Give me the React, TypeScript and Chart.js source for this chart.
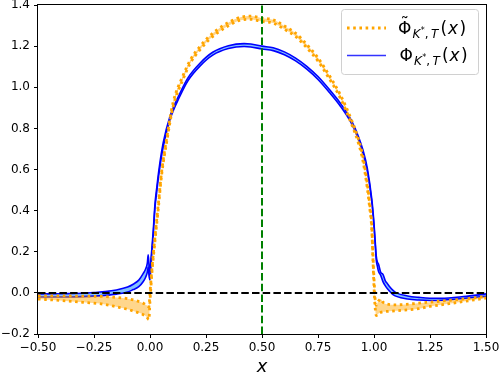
import React, { useEffect, useRef } from "react";
import { Chart, registerables } from "chart.js";

Chart.register(...registerables);

// ---- tick values / labels ----
const xTickValues = [-0.5, -0.25, 0, 0.25, 0.5, 0.75, 1, 1.25, 1.5];
const xTickLabels = ["−0.50", "−0.25", "0.00", "0.25", "0.50", "0.75", "1.00", "1.25", "1.50"];
const yTickValues = [-0.2, 0, 0.2, 0.4, 0.6, 0.8, 1.0, 1.2, 1.4];
const yTickLabels = ["−0.2", "0.0", "0.2", "0.4", "0.6", "0.8", "1.0", "1.2", "1.4"];

// ---- orange series (tilde Phi) : band upper / lower ----
const orangeX = [
  -0.5, -0.4, -0.3, -0.2, -0.15, -0.1, -0.075, -0.05, -0.03, -0.015,
  -0.005, 0.0, 0.008, 0.022, 0.037, 0.052, 0.075, 0.103, 0.148, 0.18,
  0.223, 0.26, 0.3, 0.35, 0.4, 0.45, 0.5, 0.55, 0.6, 0.65,
  0.7, 0.75, 0.8, 0.85, 0.9, 0.93, 0.95, 0.97, 0.98, 0.99,
  0.995, 1.0, 1.005, 1.01, 1.02, 1.03, 1.04, 1.06, 1.1, 1.2,
  1.25, 1.3, 1.4, 1.5,
];
const orangeUpper = [
  -0.015, -0.015, -0.016, -0.018, -0.022, -0.028, -0.034, -0.042, -0.05, -0.06,
  -0.068, 0.0, 0.11, 0.27, 0.43, 0.59, 0.755, 0.925, 1.058, 1.133,
  1.198, 1.243, 1.28, 1.315, 1.339, 1.346, 1.336, 1.328, 1.298, 1.263,
  1.208, 1.143, 1.058, 0.963, 0.84, 0.75, 0.665, 0.53, 0.44, 0.33,
  0.19, 0.07, -0.03, -0.06, -0.04, -0.03, -0.045, -0.055, -0.058, -0.05,
  -0.045, -0.04, -0.03, -0.017,
];
const orangeLower = [
  -0.03, -0.037, -0.046, -0.056, -0.068, -0.08, -0.088, -0.097, -0.106, -0.116,
  -0.13, -0.04, 0.09, 0.25, 0.41, 0.575, 0.737, 0.905, 1.04, 1.117,
  1.182, 1.227, 1.264, 1.299, 1.325, 1.33, 1.32, 1.312, 1.282, 1.247,
  1.192, 1.127, 1.042, 0.947, 0.82, 0.73, 0.645, 0.51, 0.42, 0.31,
  0.17, 0.03, -0.07, -0.11, -0.1, -0.095, -0.092, -0.09, -0.087, -0.077,
  -0.066, -0.058, -0.042, -0.025,
];

// ---- blue series (Phi) : band upper / lower ----
const blueX = [
  -0.5, -0.4, -0.3, -0.25, -0.2, -0.15, -0.1, -0.075, -0.05, -0.03,
  -0.02, -0.012, -0.008, -0.004, 0.0, 0.004, 0.008, 0.015, 0.022, 0.03,
  0.04, 0.059, 0.089, 0.134, 0.17, 0.223, 0.28, 0.35, 0.42, 0.45,
  0.5, 0.55, 0.6, 0.65, 0.7, 0.75, 0.8, 0.85, 0.9, 0.93,
  0.95, 0.97, 0.99, 1.0, 1.005, 1.01, 1.015, 1.02, 1.03, 1.04,
  1.05, 1.06, 1.07, 1.085, 1.1, 1.15, 1.2, 1.25, 1.3, 1.4,
  1.5,
];
const blueUpper = [
  -0.005, -0.004, -0.002, 0.002, 0.006, 0.014, 0.028, 0.042, 0.062, 0.095,
  0.115, 0.145, 0.185, 0.13, 0.1, 0.16, 0.21, 0.31, 0.43, 0.51,
  0.6, 0.73, 0.858, 0.972, 1.047, 1.117, 1.17, 1.202, 1.212, 1.21,
  1.2, 1.192, 1.172, 1.142, 1.102, 1.052, 0.99, 0.922, 0.837, 0.762,
  0.697, 0.607, 0.457, 0.337, 0.257, 0.18, 0.15, 0.14, 0.1, 0.09,
  0.06, 0.045, 0.03, 0.012, 0.0, -0.015, -0.022, -0.026, -0.026, -0.018,
  -0.005,
];
const blueLower = [
  -0.02, -0.02, -0.018, -0.016, -0.012, -0.006, 0.004, 0.016, 0.03, 0.055,
  0.075, 0.1, 0.125, 0.08, 0.063, 0.13, 0.19, 0.29, 0.41, 0.49,
  0.58, 0.71, 0.842, 0.958, 1.033, 1.103, 1.156, 1.188, 1.198, 1.196,
  1.186, 1.178, 1.158, 1.128, 1.088, 1.038, 0.976, 0.908, 0.823, 0.748,
  0.683, 0.593, 0.443, 0.323, 0.243, 0.16, 0.13, 0.105, 0.085, 0.055,
  0.035, 0.02, 0.008, -0.008, -0.017, -0.03, -0.035, -0.037, -0.036, -0.027,
  -0.017,
];

// ---- reference lines ----
const zeroLineX = [-0.5, 1.5];
const zeroLineY = [0, 0];
const markerLineX = [0.5, 0.5];
const markerLineY = [-0.2, 1.4];

const ORANGE = "#ffa500";
const ORANGE_FILL = "rgba(255,165,0,0.45)";
const BLUE = "#0000ff";
const BLUE_FILL = "rgba(30,144,255,0.55)";
const FONT = '"DejaVu Sans"';
const ORANGE_DASH = [2.6, 3.6];

const pts = (xs: number[], ys: number[]) => xs.map((x, i) => ({ x, y: ys[i] }));

function drawMathLabel(ctx: CanvasRenderingContext2D, x: number, y: number, tilde: boolean) {
  const big = 17;
  const sub = 12;
  ctx.fillStyle = "#000";
  ctx.textAlign = "left";
  ctx.textBaseline = "alphabetic";
  ctx.font = `${big}px ${FONT}`;
  ctx.fillText("Φ", x, y);
  const phiW = ctx.measureText("Φ").width;
  if (tilde) {
    ctx.textAlign = "center";
    ctx.fillText("˜", x + phiW / 2, y - 4.5);
    ctx.textAlign = "left";
  }
  let cx = x + phiW + 1;
  ctx.font = `italic ${sub}px ${FONT}`;
  ctx.fillText("K", cx, y + 3.5);
  cx += ctx.measureText("K").width + 0.5;
  ctx.font = `8px ${FONT}`;
  ctx.fillText("*", cx, y - 1.5);
  cx += ctx.measureText("*").width;
  ctx.font = `${sub}px ${FONT}`;
  ctx.fillText(",", cx, y + 3.5);
  cx += ctx.measureText(",").width + 2.5;
  ctx.font = `italic ${sub}px ${FONT}`;
  ctx.fillText("T", cx, y + 3.5);
  cx += ctx.measureText("T").width + 2;
  ctx.font = `${big}px ${FONT}`;
  ctx.fillText("(", cx, y);
  cx += ctx.measureText("(").width + 1;
  ctx.font = `italic ${big}px ${FONT}`;
  ctx.fillText("x", cx, y);
  cx += ctx.measureText("x").width + 1.5;
  ctx.font = `${big}px ${FONT}`;
  ctx.fillText(")", cx, y);
}

const overlayPlugin = {
  id: "overlay",
  afterDraw(chart: any) {
    const { ctx, chartArea: a } = chart;
    ctx.save();
    // axes frame
    ctx.strokeStyle = "#000";
    ctx.lineWidth = 1;
    ctx.setLineDash([]);
    ctx.strokeRect(a.left - 0.5, a.top - 0.5, a.right - a.left + 1, a.bottom - a.top + 1);

    // legend box
    const lx = 341.5, ly = 9.5, lw = 137, lh = 65, r = 3;
    ctx.beginPath();
    ctx.moveTo(lx + r, ly);
    ctx.lineTo(lx + lw - r, ly);
    ctx.quadraticCurveTo(lx + lw, ly, lx + lw, ly + r);
    ctx.lineTo(lx + lw, ly + lh - r);
    ctx.quadraticCurveTo(lx + lw, ly + lh, lx + lw - r, ly + lh);
    ctx.lineTo(lx + r, ly + lh);
    ctx.quadraticCurveTo(lx, ly + lh, lx, ly + lh - r);
    ctx.lineTo(lx, ly + r);
    ctx.quadraticCurveTo(lx, ly, lx + r, ly);
    ctx.closePath();
    ctx.fillStyle = "rgba(255,255,255,0.85)";
    ctx.fill();
    ctx.strokeStyle = "#d0d0d0";
    ctx.lineWidth = 1;
    ctx.stroke();

    // legend handles
    ctx.beginPath();
    ctx.strokeStyle = ORANGE;
    ctx.lineWidth = 2.8;
    ctx.setLineDash(ORANGE_DASH);
    ctx.moveTo(347, 28);
    ctx.lineTo(386, 28);
    ctx.stroke();
    ctx.beginPath();
    ctx.setLineDash([]);
    ctx.strokeStyle = "#3333ff";
    ctx.lineWidth = 1.6;
    ctx.moveTo(347, 55.5);
    ctx.lineTo(386, 55.5);
    ctx.stroke();

    drawMathLabel(ctx, 398, 34, true);
    drawMathLabel(ctx, 399.5, 61, false);

    // x-axis label
    ctx.fillStyle = "#000";
    ctx.font = `italic 18px ${FONT}`;
    ctx.textAlign = "center";
    ctx.textBaseline = "alphabetic";
    ctx.fillText("x", (a.left + a.right) / 2, 372);
    ctx.restore();
  },
};

export default function App() {
  const ref = useRef<HTMLCanvasElement | null>(null);

  useEffect(() => {
    if (!ref.current) return;
    Chart.defaults.font.family = FONT;
    const dashed = [7.5, 3.2];
    const curve = { pointRadius: 0, cubicInterpolationMode: "monotone" as const };
    const chart = new Chart(ref.current, {
      type: "line",
      data: {
        datasets: [
          {
            label: "marker",
            data: pts(markerLineX, markerLineY),
            borderColor: "#008000",
            borderWidth: 2,
            borderDash: dashed,
            pointRadius: 0,
            fill: false,
          },
          {
            label: "zero",
            data: pts(zeroLineX, zeroLineY),
            borderColor: "#000000",
            borderWidth: 2,
            borderDash: dashed,
            pointRadius: 0,
            fill: false,
          },
          {
            label: "tildePhiUpper",
            data: pts(orangeX, orangeUpper),
            borderColor: ORANGE,
            borderWidth: 2.8,
            borderDash: ORANGE_DASH,
            fill: false,
            ...curve,
          },
          {
            label: "tildePhiLower",
            data: pts(orangeX, orangeLower),
            borderColor: ORANGE,
            borderWidth: 2.8,
            borderDash: ORANGE_DASH,
            fill: "-1",
            backgroundColor: ORANGE_FILL,
            ...curve,
          },
          {
            label: "phiUpper",
            data: pts(blueX, blueUpper),
            borderColor: BLUE,
            borderWidth: 1.6,
            fill: false,
            ...curve,
          },
          {
            label: "phiLower",
            data: pts(blueX, blueLower),
            borderColor: BLUE,
            borderWidth: 1.6,
            fill: "-1",
            backgroundColor: BLUE_FILL,
            ...curve,
          },
        ],
      },
      options: {
        responsive: false,
        animation: false,
        devicePixelRatio: 1,
        layout: { padding: { top: 5, right: 14, left: 0, bottom: 0 } },
        plugins: {
          legend: { display: false },
          tooltip: { enabled: false },
          title: { display: false },
        },
        scales: {
          x: {
            type: "linear",
            min: -0.5,
            max: 1.5,
            border: { display: false },
            grid: {
              drawOnChartArea: false,
              drawTicks: true,
              tickLength: 4,
              tickColor: "#000",
              lineWidth: 1,
            },
            afterBuildTicks: (s: any) => {
              s.ticks = xTickValues.map((v) => ({ value: v }));
            },
            afterFit: (s: any) => {
              s.height = 40;
              s.paddingLeft = 0;
              s.paddingRight = 0;
            },
            ticks: {
              autoSkip: false,
              maxRotation: 0,
              color: "#000",
              padding: 3,
              font: { size: 12, family: FONT },
              callback: (_v: any, i: number) => xTickLabels[i],
            },
          },
          y: {
            type: "linear",
            min: -0.2,
            max: 1.4,
            border: { display: false },
            grid: {
              drawOnChartArea: false,
              drawTicks: true,
              tickLength: 4,
              tickColor: "#000",
              lineWidth: 1,
            },
            afterBuildTicks: (s: any) => {
              s.ticks = yTickValues.map((v) => ({ value: v }));
            },
            afterFit: (s: any) => {
              s.width = 38;
              s.paddingTop = 0;
              s.paddingBottom = 0;
            },
            ticks: {
              autoSkip: false,
              color: "#000",
              padding: 4,
              font: { size: 12, family: FONT },
              callback: (_v: any, i: number) => yTickLabels[i],
            },
          },
        },
      },
      plugins: [overlayPlugin],
    });
    return () => chart.destroy();
  }, []);

  return (
    <canvas
      ref={ref}
      width={500}
      height={374}
      style={{ position: "absolute", left: 0, top: 0, width: 500, height: 374, display: "block" }}
    />
  );
}
